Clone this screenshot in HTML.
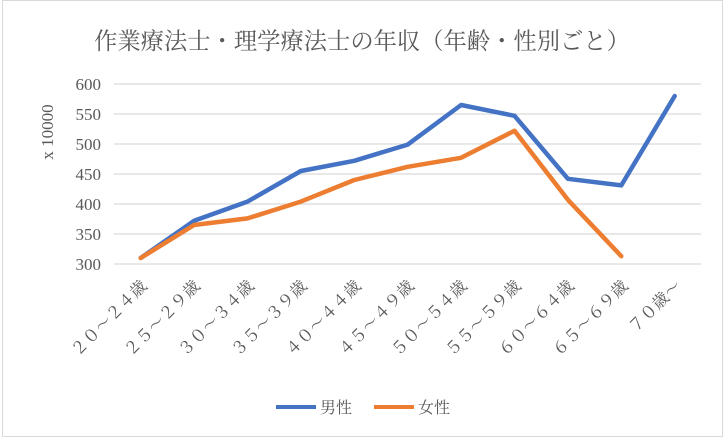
<!DOCTYPE html><html><head><meta charset="utf-8"><style>body{margin:0;background:#fff}svg{display:block}text{font-family:"Liberation Serif","Noto Serif CJK SC",serif;fill:#595959}</style></head><body>
<svg width="726" height="438" viewBox="0 0 726 438">
<rect x="2.5" y="0.5" width="720" height="436" fill="#fff" stroke="#d9d9d9"/>
<text x="362" y="49" text-anchor="middle" font-size="23.3">作業療法士・理学療法士の年収（年齢・性別ごと）</text>
<g stroke="#d9d9d9" stroke-width="1.3">
<line x1="114" x2="701" y1="84" y2="84"/><line x1="114" x2="701" y1="114" y2="114"/><line x1="114" x2="701" y1="144" y2="144"/><line x1="114" x2="701" y1="174" y2="174"/><line x1="114" x2="701" y1="204" y2="204"/><line x1="114" x2="701" y1="234" y2="234"/><line x1="114" x2="701" y1="264" y2="264"/>
</g>
<g font-size="17" text-anchor="end">
<text x="101" y="90">600</text><text x="101" y="120">550</text><text x="101" y="150">500</text><text x="101" y="180">450</text><text x="101" y="210">400</text><text x="101" y="240">350</text><text x="101" y="270">300</text>
</g>
<text transform="translate(53,132) rotate(-90)" font-size="17" text-anchor="middle">x 10000</text>
<polyline fill="none" stroke="#4472c4" stroke-width="4.5" stroke-linejoin="round" stroke-linecap="round" points="140.7,258 194.1,220.8 247.5,201.6 300.9,171 354.3,160.8 407.7,144.6 461.1,105 514.5,115.8 567.9,178.8 621.3,185.4 674.7,96"/>
<polyline fill="none" stroke="#ed7d31" stroke-width="4.5" stroke-linejoin="round" stroke-linecap="round" points="140.7,258 194.1,225 247.5,218.4 300.9,201.6 354.3,180 407.7,166.8 461.1,157.8 514.5,130.8 567.9,199.8 621.3,256.2"/>
<g font-size="16.5" text-anchor="end">
<text transform="translate(148,287) rotate(-45)">２０～２４歳</text>
<text transform="translate(201,287) rotate(-45)">２５～２９歳</text>
<text transform="translate(255,287) rotate(-45)">３０～３４歳</text>
<text transform="translate(308,287) rotate(-45)">３５～３９歳</text>
<text transform="translate(362,287) rotate(-45)">４０～４４歳</text>
<text transform="translate(415,287) rotate(-45)">４５～４９歳</text>
<text transform="translate(468,287) rotate(-45)">５０～５４歳</text>
<text transform="translate(522,287) rotate(-45)">５５～５９歳</text>
<text transform="translate(575,287) rotate(-45)">６０～６４歳</text>
<text transform="translate(629,287) rotate(-45)">６５～６９歳</text>
<text transform="translate(682,287) rotate(-45)">７０歳～</text>
</g>
<line x1="276" x2="316" y1="407" y2="407" stroke="#4472c4" stroke-width="4"/>
<text x="320" y="413" font-size="16">男性</text>
<line x1="374" x2="414" y1="407" y2="407" stroke="#ed7d31" stroke-width="4"/>
<text x="418" y="413" font-size="16">女性</text>
</svg></body></html>
